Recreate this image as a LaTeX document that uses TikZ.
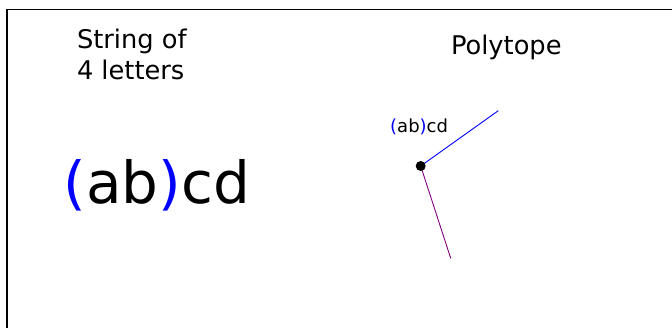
\documentclass[tikz,border=0pt]{standalone}
\usepackage{fontspec}
\setmainfont{DejaVu Sans}
\definecolor{pblue}{RGB}{0,0,255}
\definecolor{ppurple}{RGB}{128,0,128}
\begin{document}
\begin{tikzpicture}[x=1pt,y=-1pt,
  txt/.style={anchor=base west,inner sep=0pt,outer sep=0pt},
  edgeline/.style={line width=0.9pt}]
\useasboundingbox (0,0) rectangle (672,328);
\clip (0,0) rectangle (672,328);
\draw[line width=1.2pt] (7,9.4) rectangle (700,360);
\node[txt,font=\fontsize{25.7}{30}\selectfont] (s1) at (77,48.3) {String of};
\node[txt,font=\fontsize{25.7}{30}\selectfont] (s2) at (77,79.5) {4 letters};
\node[txt,font=\fontsize{25.7}{30}\selectfont] (poly) at (451,55) {Polytope};
\node[txt,font=\fontsize{58}{66}\selectfont] (big) at (63.5,203.3) {\textcolor{pblue}{(}ab\textcolor{pblue}{)}cd};
\node[txt,font=\fontsize{18}{21}\selectfont] (small) at (390.2,132.7) {\textcolor{pblue}{(}ab\textcolor{pblue}{)}cd};
\coordinate (pv) at (420.7,166);
\coordinate (eb) at (498.3,110.7);
\coordinate (ep) at (450.7,258.3);
\draw[edgeline,pblue] (pv) -- (eb);
\draw[edgeline,ppurple] (pv) -- (ep);
\node[circle,fill=black,inner sep=0pt,minimum size=10pt] (dot) at (pv) {};
\end{tikzpicture}
\end{document}
